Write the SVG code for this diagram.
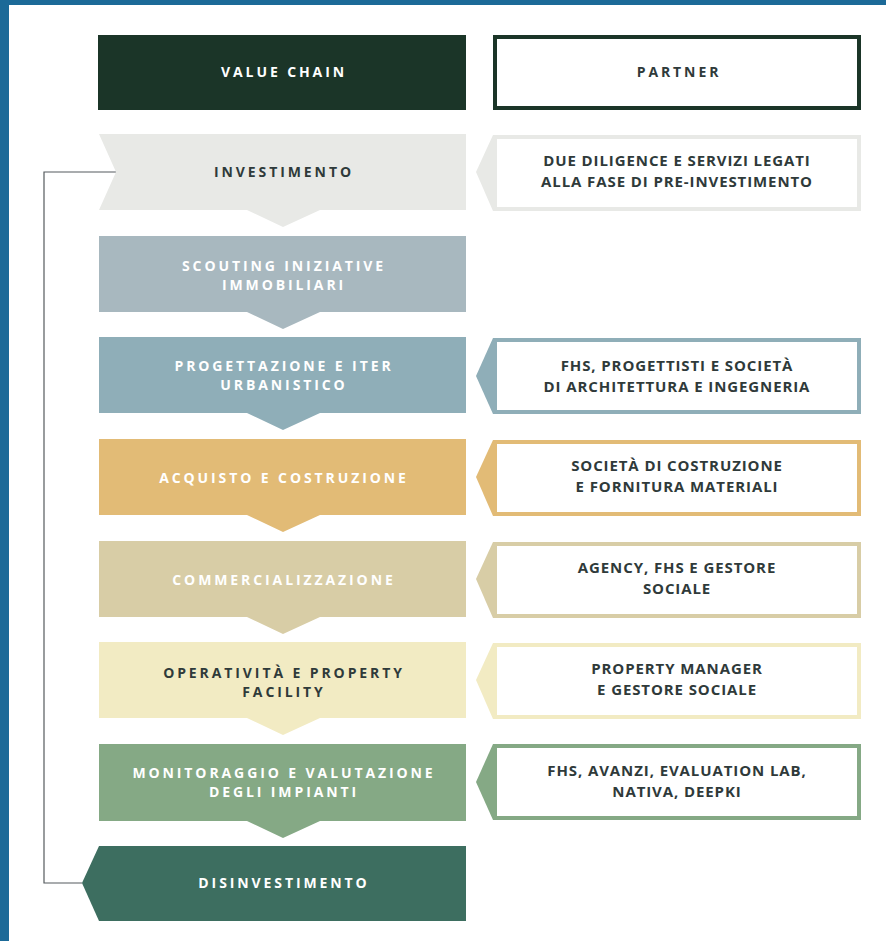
<svg xmlns="http://www.w3.org/2000/svg" width="886" height="941" viewBox="0 0 886 941">
<style>
.lbl{font-family:"Open Sans","Noto Sans","Liberation Sans",sans-serif;font-weight:700;font-size:14px;letter-spacing:2.9px;text-anchor:middle}
.ptx{font-family:"Open Sans","Noto Sans","Liberation Sans",sans-serif;font-weight:700;font-size:15px;letter-spacing:0.9px;text-anchor:middle;fill:#2f3a3a}
.w{fill:#ffffff}
.d{fill:#2f3a3a}
.conn{fill:none;stroke:#555b5e;stroke-width:1.2}
.inner{fill:#ffffff}
</style>
<rect x="0" y="0" width="886" height="941" fill="#ffffff"/>
<rect x="0" y="0" width="886" height="5" fill="#1c6a98"/>
<rect x="0" y="0" width="9" height="941" fill="#1c6a98"/>

<g id="header-value-chain">
<rect x="98" y="35" width="368" height="75" fill="#1b3528"/>
<text class="lbl w" x="284" y="77">VALUE CHAIN</text>
</g>
<g id="header-partner">
<rect x="495" y="37" width="364" height="71" fill="#ffffff" stroke="#1b3528" stroke-width="4"/>
<text class="lbl d" x="679" y="77">PARTNER</text>
</g>

<g id="connectors">
<polyline class="conn" points="116,172 44,172 44,883 82,883"/>
</g>

<g id="vc-investimento">
<polygon points="99,134 466,134 466,210 320,210 283,227 247,210 99,210 116,172" fill="#e8e9e6"/>
<text class="lbl d" x="284" y="177">INVESTIMENTO</text>
</g>
<g id="vc-scouting">
<polygon points="99,236 466,236 466,312 320,312 283,329 247,312 99,312" fill="#a8b8bf"/>
<text class="lbl w" x="284" y="271">SCOUTING INIZIATIVE</text>
<text class="lbl w" x="284" y="290">IMMOBILIARI</text>
</g>
<g id="vc-progettazione">
<polygon points="99,337 466,337 466,413 320,413 283,430 247,413 99,413" fill="#8faeb8"/>
<text class="lbl w" x="284" y="371">PROGETTAZIONE E ITER</text>
<text class="lbl w" x="284" y="390">URBANISTICO</text>
</g>
<g id="vc-acquisto">
<polygon points="99,439 466,439 466,515 320,515 283,532 247,515 99,515" fill="#e2bb76"/>
<text class="lbl w" x="284" y="483">ACQUISTO E COSTRUZIONE</text>
</g>
<g id="vc-commercializzazione">
<polygon points="99,541 466,541 466,617 320,617 283,634 247,617 99,617" fill="#d8cda6"/>
<text class="lbl w" x="284" y="585">COMMERCIALIZZAZIONE</text>
</g>
<g id="vc-operativita">
<polygon points="99,642 466,642 466,718 320,718 283,735 247,718 99,718" fill="#f2ebc3"/>
<text class="lbl d" x="284" y="678">OPERATIVITÀ E PROPERTY</text>
<text class="lbl d" x="284" y="697">FACILITY</text>
</g>
<g id="vc-monitoraggio">
<polygon points="99,744 466,744 466,821 320,821 283,838 247,821 99,821" fill="#85a985"/>
<text class="lbl w" x="284" y="778">MONITORAGGIO E VALUTAZIONE</text>
<text class="lbl w" x="284" y="797">DEGLI IMPIANTI</text>
</g>
<g id="vc-disinvestimento">
<polygon points="99,846 466,846 466,921 99,921 82,883" fill="#3d6e60"/>
<text class="lbl w" x="284" y="888">DISINVESTIMENTO</text>
</g>

<g id="p-investimento">
<polygon points="476,172 493,135 861,135 861,211 493,211" fill="#e8e9e6"/>
<rect class="inner" x="497" y="139" width="360" height="68"/>
<text class="ptx" x="677" y="166">DUE DILIGENCE E SERVIZI LEGATI</text>
<text class="ptx" x="677" y="187">ALLA FASE DI PRE-INVESTIMENTO</text>
</g>
<g id="p-progettazione">
<polygon points="476,376 493,338 861,338 861,414 493,414" fill="#8faeb8"/>
<rect class="inner" x="497" y="342" width="360" height="68"/>
<text class="ptx" x="677" y="371">FHS, PROGETTISTI E SOCIETÀ</text>
<text class="ptx" x="677" y="392">DI ARCHITETTURA E INGEGNERIA</text>
</g>
<g id="p-acquisto">
<polygon points="476,477 493,440 861,440 861,516 493,516" fill="#e2bb76"/>
<rect class="inner" x="497" y="444" width="360" height="68"/>
<text class="ptx" x="677" y="471">SOCIETÀ DI COSTRUZIONE</text>
<text class="ptx" x="677" y="492">E FORNITURA MATERIALI</text>
</g>
<g id="p-commercializzazione">
<polygon points="476,579 493,542 861,542 861,618 493,618" fill="#d8cda6"/>
<rect class="inner" x="497" y="546" width="360" height="68"/>
<text class="ptx" x="677" y="573">AGENCY, FHS E GESTORE</text>
<text class="ptx" x="677" y="594">SOCIALE</text>
</g>
<g id="p-operativita">
<polygon points="476,680 493,643 861,643 861,719 493,719" fill="#f2ebc3"/>
<rect class="inner" x="497" y="647" width="360" height="68"/>
<text class="ptx" x="677" y="674">PROPERTY MANAGER</text>
<text class="ptx" x="677" y="695">E GESTORE SOCIALE</text>
</g>
<g id="p-monitoraggio">
<polygon points="476,782 493,744 861,744 861,820 493,820" fill="#85a985"/>
<rect class="inner" x="497" y="748" width="360" height="68"/>
<text class="ptx" x="677" y="776">FHS, AVANZI, EVALUATION LAB,</text>
<text class="ptx" x="677" y="797">NATIVA, DEEPKI</text>
</g>
</svg>
